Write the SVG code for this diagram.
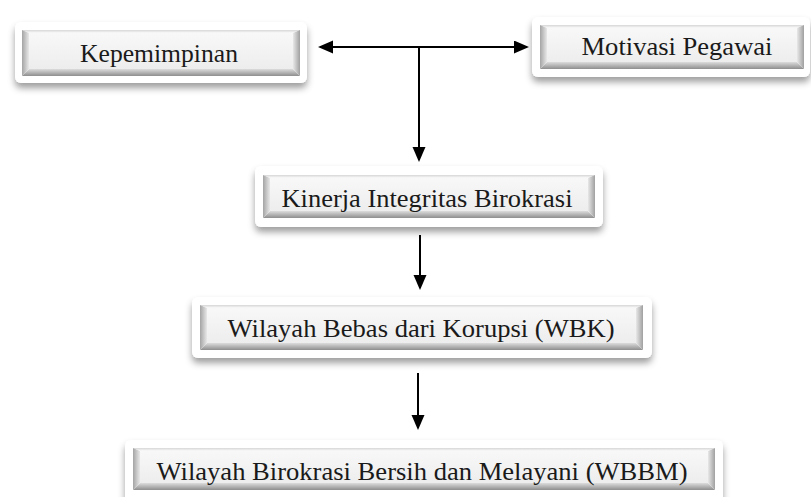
<svg xmlns="http://www.w3.org/2000/svg" width="811" height="497" viewBox="0 0 811 497">
<defs>
<filter id="sh" x="-10%" y="-30%" width="120%" height="170%">
<feDropShadow dx="0" dy="5" stdDeviation="3.5" flood-color="#000" flood-opacity="0.38"/>
</filter>
<linearGradient id="gTop" x1="0" y1="0" x2="0" y2="1"><stop offset="0" stop-color="#d6d6d6"/><stop offset="1" stop-color="#fbfbfb"/></linearGradient>
<linearGradient id="gBot" x1="0" y1="0" x2="0" y2="1"><stop offset="0" stop-color="#dcdcdc"/><stop offset="1" stop-color="#8e8e8e"/></linearGradient>
<linearGradient id="gLeft" x1="0" y1="0" x2="1" y2="0"><stop offset="0" stop-color="#a4a4a4"/><stop offset="1" stop-color="#e8e8e8"/></linearGradient>
<linearGradient id="gRight" x1="0" y1="0" x2="1" y2="0"><stop offset="0" stop-color="#e8e8e8"/><stop offset="1" stop-color="#a0a0a0"/></linearGradient>
<linearGradient id="gFace" x1="0" y1="0" x2="0" y2="1"><stop offset="0" stop-color="#f8f8f8"/><stop offset="1" stop-color="#ededed"/></linearGradient>
<marker id="ah" markerUnits="userSpaceOnUse" markerWidth="16" markerHeight="14" refX="13" refY="6.5" orient="auto-start-reverse">
<path d="M0,0 L15,6.5 L0,13 z" fill="#000"/>
</marker>
</defs>
<style>
.outer{fill:#fff;filter:url(#sh)}
.t{fill:url(#gTop)}
.b{fill:url(#gBot)}
.l{fill:url(#gLeft)}
.r{fill:url(#gRight)}
.f{fill:url(#gFace)}
.lbl{font-family:"Liberation Serif","Times New Roman",serif;font-size:26px;fill:#1a1a1a;text-anchor:middle}
.con{stroke:#000;stroke-width:2;fill:none}
</style>
<rect width="811" height="497" fill="#fff"/>

<g id="kepemimpinan">
<rect class="outer" x="15" y="22" width="292" height="61" rx="6"/>
<polygon class="t" points="22,30 300,30 293,33 29,33"/>
<polygon class="b" points="22,76 300,76 293,69 29,69"/>
<polygon class="l" points="22,30 29,33 29,69 22,76"/>
<polygon class="r" points="300,30 293,33 293,69 300,76"/>
<rect class="f" x="29" y="33" width="264" height="36"/>
<text class="lbl" x="159" y="62" textLength="158" lengthAdjust="spacingAndGlyphs">Kepemimpinan</text>
</g>

<g id="motivasi">
<rect class="outer" x="532" y="17" width="278" height="60" rx="6"/>
<polygon class="t" points="540,25 804,25 797,28 547,28"/>
<polygon class="b" points="540,69 804,69 797,62 547,62"/>
<polygon class="l" points="540,25 547,28 547,62 540,69"/>
<polygon class="r" points="804,25 797,28 797,62 804,69"/>
<rect class="f" x="547" y="28" width="250" height="34"/>
<text class="lbl" x="677" y="55" textLength="191" lengthAdjust="spacingAndGlyphs">Motivasi Pegawai</text>
</g>

<g id="kinerja">
<rect class="outer" x="255" y="166" width="348" height="61" rx="6"/>
<polygon class="t" points="263,175 595,175 588,178 270,178"/>
<polygon class="b" points="263,218 595,218 588,211 270,211"/>
<polygon class="l" points="263,175 270,178 270,211 263,218"/>
<polygon class="r" points="595,175 588,178 588,211 595,218"/>
<rect class="f" x="270" y="178" width="318" height="33"/>
<text class="lbl" x="427" y="207" textLength="291" lengthAdjust="spacingAndGlyphs">Kinerja  Integritas Birokrasi</text>
</g>

<g id="wbk">
<rect class="outer" x="192" y="297" width="460" height="61" rx="6"/>
<polygon class="t" points="200,305 643,305 636,308 207,308"/>
<polygon class="b" points="200,350 643,350 636,343 207,343"/>
<polygon class="l" points="200,305 207,308 207,343 200,350"/>
<polygon class="r" points="643,305 636,308 636,343 643,350"/>
<rect class="f" x="207" y="308" width="429" height="35"/>
<text class="lbl" x="421" y="337" textLength="387" lengthAdjust="spacingAndGlyphs">Wilayah Bebas dari Korupsi (WBK)</text>
</g>

<g id="wbbm">
<rect class="outer" x="125" y="440" width="598" height="64" rx="6"/>
<polygon class="t" points="133,448 715,448 708,451 140,451"/>
<polygon class="b" points="133,490 715,490 708,483 140,483"/>
<polygon class="l" points="133,448 140,451 140,483 133,490"/>
<polygon class="r" points="715,448 708,451 708,483 715,490"/>
<rect class="f" x="140" y="451" width="568" height="32"/>
<text class="lbl" x="422" y="480" textLength="531" lengthAdjust="spacingAndGlyphs">Wilayah Birokrasi Bersih dan Melayani (WBBM)</text>
</g>

<g id="connectors">
<path class="con" d="M320,47 H527" marker-start="url(#ah)" marker-end="url(#ah)"/>
<path class="con" d="M419,47 V160" marker-end="url(#ah)"/>
<path class="con" d="M420,235 V288" marker-end="url(#ah)"/>
<path class="con" d="M418,373 V428" marker-end="url(#ah)"/>
</g>
</svg>
